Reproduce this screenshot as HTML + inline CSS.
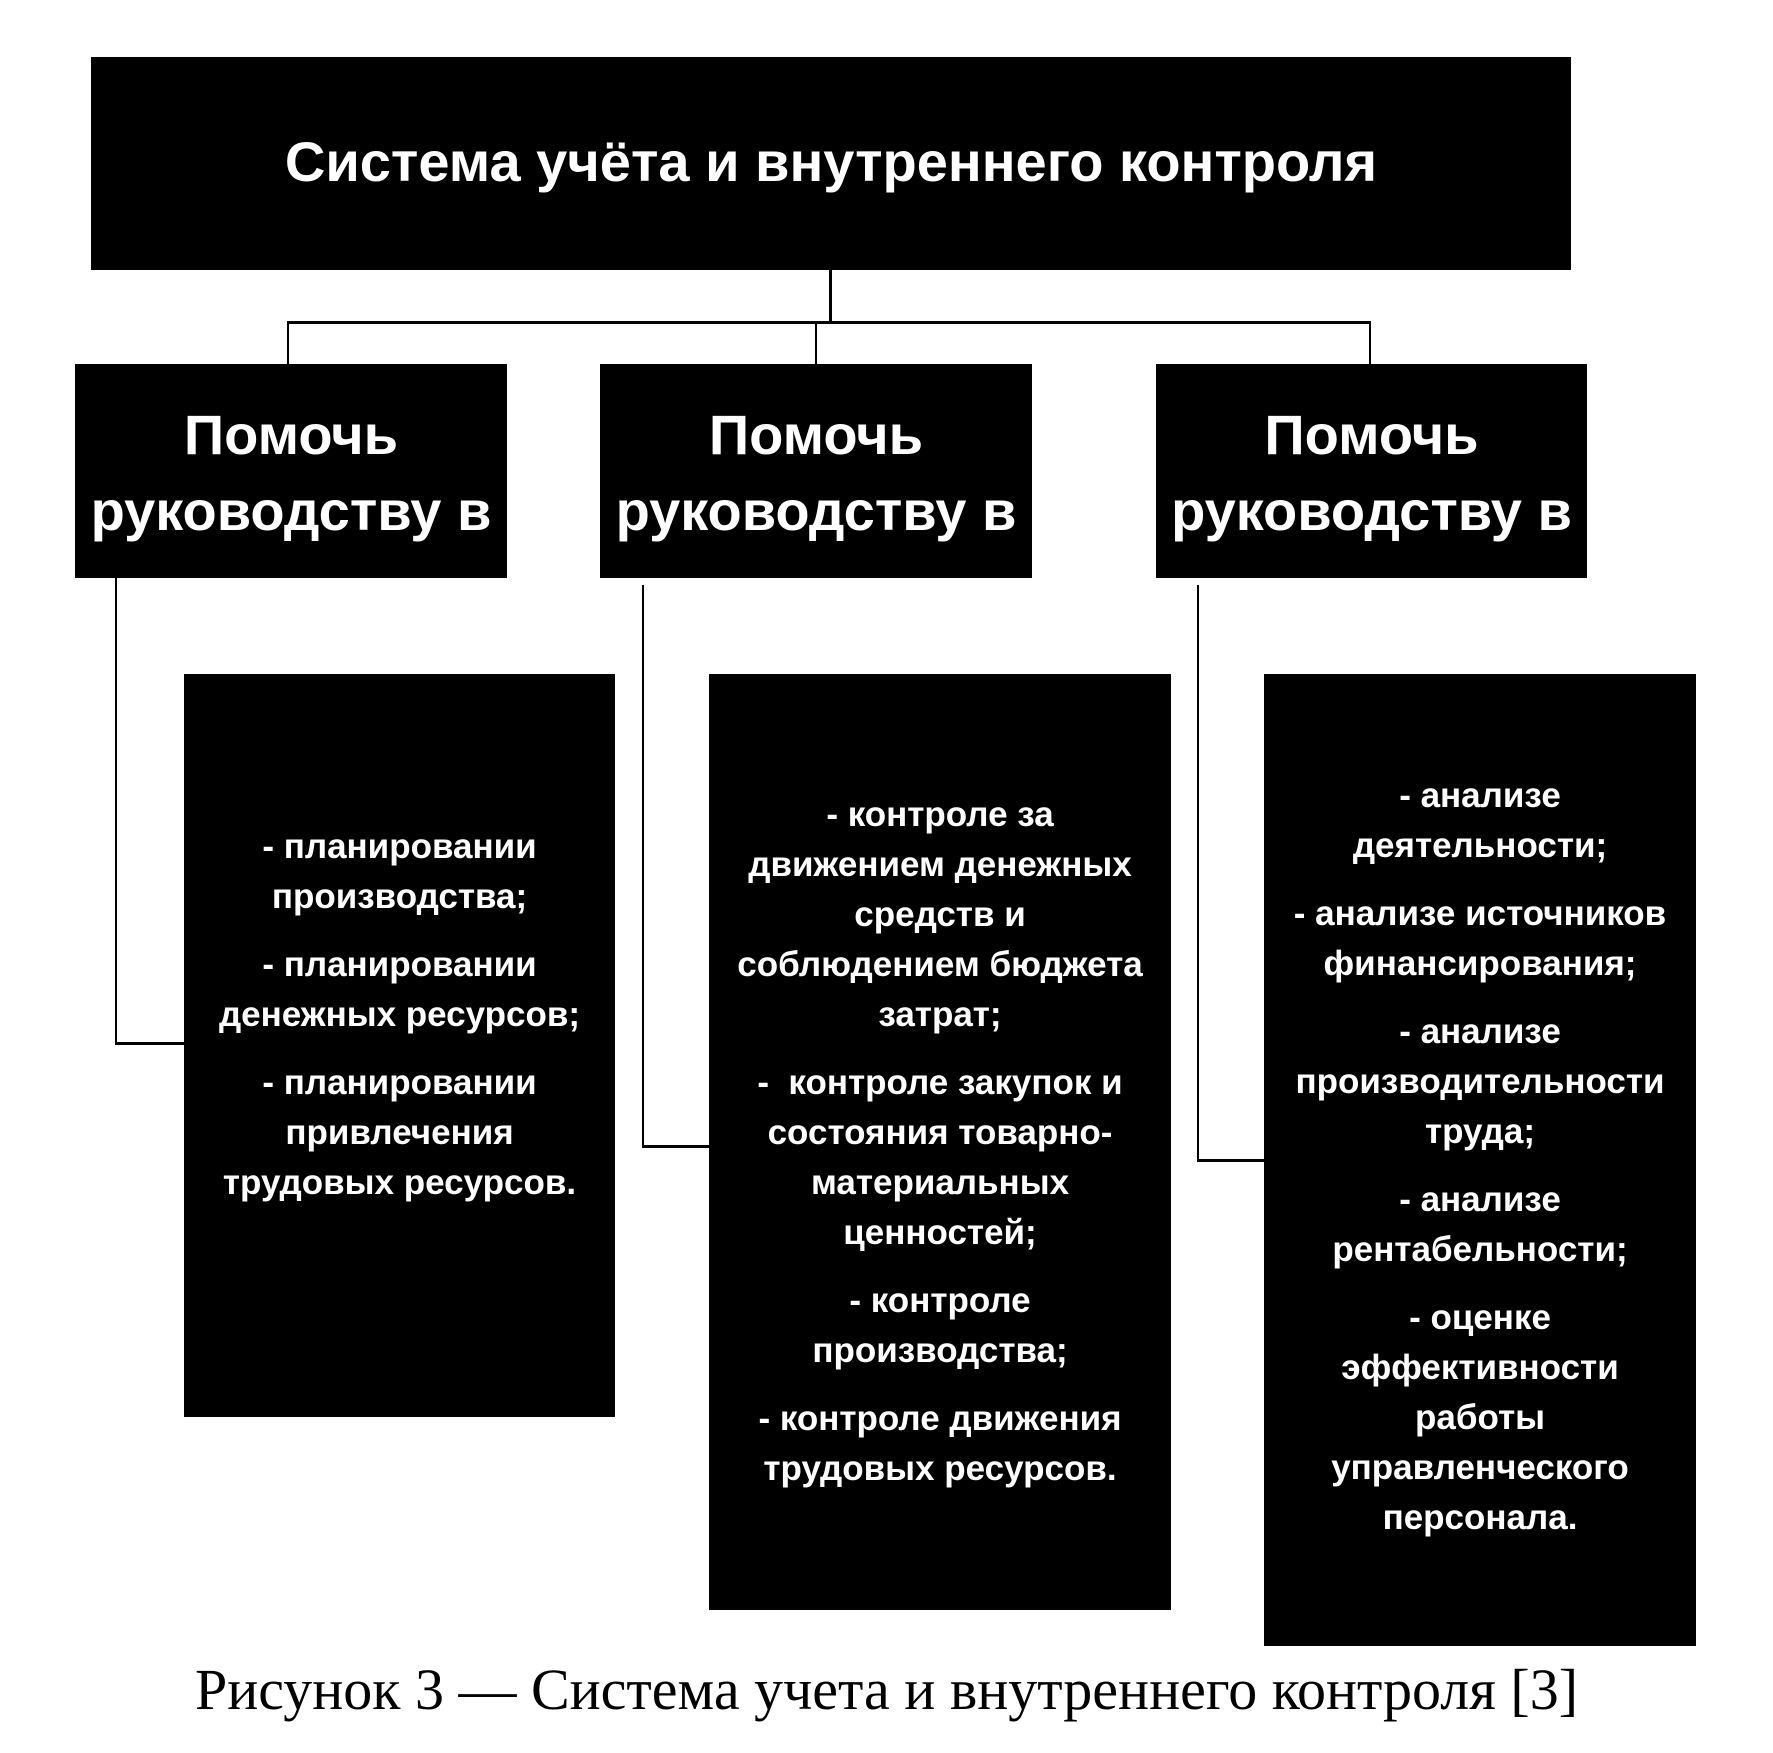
<!DOCTYPE html>
<html><head><meta charset="utf-8"><style>
body{margin:0;width:1773px;height:1753px;background:#fff;position:relative;overflow:hidden;font-family:"Liberation Sans",sans-serif}
.b{position:absolute;background:#000}
.l{position:absolute;background:#000}
.t{position:absolute;color:#fff;text-align:center;font-weight:bold}
.p{position:absolute;color:#fff;text-align:center;font-size:35px;line-height:50px;font-weight:bold}
.p div{margin-bottom:18px}
</style></head><body>
<div class="b" style="left:91px;top:57px;width:1480px;height:213px"></div>
<div class="t" style="left:91px;top:126px;width:1480px;font-size:56px;line-height:72px">Система учёта и внутреннего контроля</div>

<div class="l" style="left:829px;top:270px;width:3px;height:52px"></div>
<div class="l" style="left:288px;top:321px;width:1083px;height:3px"></div>
<div class="l" style="left:287px;top:321px;width:2px;height:43px"></div>
<div class="l" style="left:815px;top:321px;width:2px;height:43px"></div>
<div class="l" style="left:1369px;top:321px;width:2px;height:43px"></div>

<div class="b" style="left:75px;top:364px;width:432px;height:214px"></div>
<div class="b" style="left:600px;top:364px;width:432px;height:214px"></div>
<div class="b" style="left:1156px;top:364px;width:431px;height:214px"></div>
<div class="t" style="left:75px;top:397px;width:432px;font-size:56px;line-height:76px">Помочь<br>руководству в</div>
<div class="t" style="left:600px;top:397px;width:432px;font-size:56px;line-height:76px">Помочь<br>руководству в</div>
<div class="t" style="left:1156px;top:397px;width:431px;font-size:56px;line-height:76px">Помочь<br>руководству в</div>

<div class="l" style="left:115px;top:578px;width:2px;height:466px"></div>
<div class="l" style="left:115px;top:1042px;width:69px;height:3px"></div>
<div class="l" style="left:642px;top:585px;width:2px;height:562px"></div>
<div class="l" style="left:642px;top:1145px;width:67px;height:3px"></div>
<div class="l" style="left:1197px;top:585px;width:2px;height:576px"></div>
<div class="l" style="left:1197px;top:1159px;width:67px;height:3px"></div>

<div class="b" style="left:184px;top:674px;width:431px;height:743px"></div>
<div class="b" style="left:709px;top:674px;width:462px;height:936px"></div>
<div class="b" style="left:1264px;top:674px;width:432px;height:972px"></div>

<div class="p" style="left:184px;top:822px;width:431px">
<div>- планировании<br>производства;</div>
<div>- планировании<br>денежных ресурсов;</div>
<div>- планировании<br>привлечения<br>трудовых ресурсов.</div>
</div>
<div class="p" style="left:709px;top:790px;width:462px">
<div>- контроле за<br>движением денежных<br>средств и<br>соблюдением бюджета<br>затрат;</div>
<div>- &nbsp;контроле закупок и<br>состояния товарно-<br>материальных<br>ценностей;</div>
<div>- контроле<br>производства;</div>
<div>- контроле движения<br>трудовых ресурсов.</div>
</div>
<div class="p" style="left:1264px;top:771px;width:432px">
<div>- анализе<br>деятельности;</div>
<div>- анализе источников<br>финансирования;</div>
<div>- анализе<br>производительности<br>труда;</div>
<div>- анализе<br>рентабельности;</div>
<div>- оценке<br>эффективности<br>работы<br>управленческого<br>персонала.</div>
</div>

<div style="position:absolute;left:0;top:1650px;width:1773px;text-align:center;font-family:'Liberation Serif',serif;font-size:58px;line-height:80px;color:#000">Рисунок 3 — Система учета и внутреннего контроля [3]</div>
</body></html>
